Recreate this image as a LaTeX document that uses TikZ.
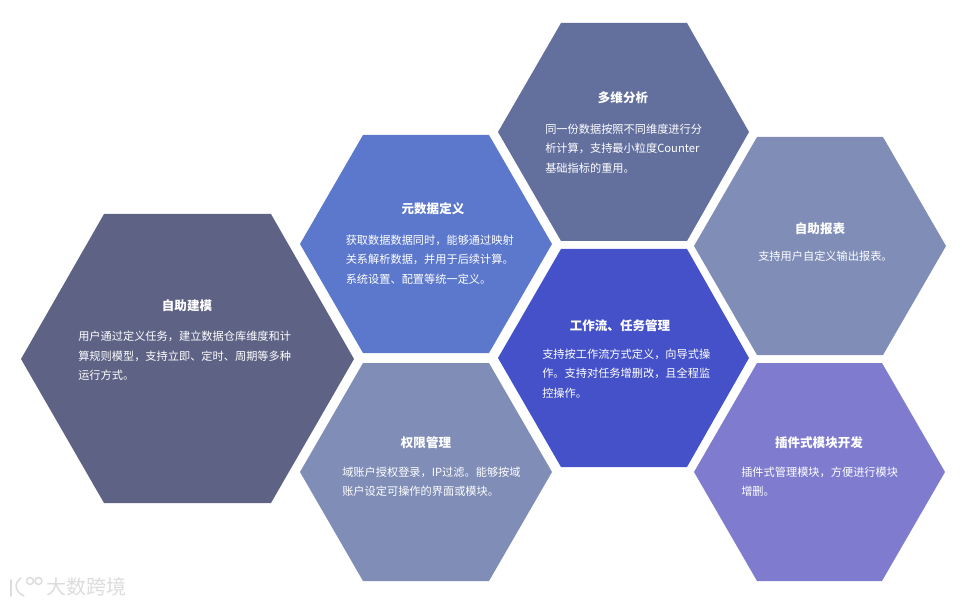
\documentclass[tikz,border=0pt]{standalone}
\usepackage{fontspec}
\setmainfont{Noto Sans CJK SC}
\definecolor{cA}{HTML}{5E6386}
\definecolor{cB}{HTML}{63709E}
\definecolor{cC}{HTML}{5C78CC}
\definecolor{cD}{HTML}{7F8DB7}
\definecolor{cE}{HTML}{4451C8}
\definecolor{cF}{HTML}{7F7CD0}
\definecolor{mark}{HTML}{DCDCDC}
\tikzset{
  x=0.75pt,y=-0.75pt,
  hextitle/.style={text=white,font=\fontsize{9.4pt}{11pt}\selectfont\bfseries,inner sep=0pt,anchor=center},
  hexbody/.style={text=white,font=\fontsize{8.4pt}{14.7pt}\selectfont,inner sep=0pt,anchor=north west,align=left},
  wm/.style={text=mark,font=\fontsize{15pt}{18pt}\selectfont,inner sep=0pt},
  wmline/.style={draw=mark,line width=1.1pt,line cap=round}
}
\newcommand{\hexa}[8]{\fill[#1] (#2,#7) -- (#3,#5) -- (#4,#5) -- (#8,#7) -- (#4,#6) -- (#3,#6) -- cycle;}
\begin{document}
\begin{tikzpicture}
\useasboundingbox (0,0) rectangle (962,605);
% colour, left, topleft, topright, top, bottom, mid, right
\hexa{cA}{21}{104}{271}{214}{503}{359}{354}
\hexa{cB}{498}{561}{687}{23}{241}{132}{749}
\hexa{cC}{300}{363}{489}{135}{353}{244}{552}
\hexa{cD}{300}{363}{489}{363}{581}{472}{552}
\hexa{cE}{498}{561}{687}{249}{467}{358}{749}
\hexa{cD}{694}{757}{883}{137}{355}{246}{946}
\hexa{cF}{694}{757}{882}{363}{581}{472}{945}

\node[hextitle] (t1) at (187,306) {自助建模};
\node[hexbody] (b1) at (78,331) {用户通过定义任务，建立数据仓库维度和计\\算规则模型，支持立即、定时、周期等多种\\运行方式。};

\node[hextitle] (t2) at (623,98) {多维分析};
\node[hexbody] (b2) at (545,123.5) {同一份数据按照不同维度进行分\\析计算，支持最小粒度Counter\\基础指标的重用。};

\node[hextitle] (t3) at (433,209) {元数据定义};
\node[hexbody] (b3) at (345.5,234.5) {获取数据数据同时，能够通过映射\\关系解析数据，并用于后续计算。\\系统设置、配置等统一定义。};

\node[hextitle] (t4) at (426,443) {权限管理};
\node[hexbody] (b4) at (342,466.5) {域账户授权登录，IP过滤。能够按域\\账户设定可操作的界面或模块。};

\node[hextitle] (t5) at (620,326) {工作流、任务管理};
\node[hexbody] (b5) at (542,348.5) {支持按工作流方式定义，向导式操\\作。支持对任务增删改，且全程监\\控操作。};

\node[hextitle] (t6) at (820,229) {自助报表};
\node[hexbody] (b6) at (758,251) {支持用户自定义输出报表。};

\node[hextitle] (t7) at (819,443) {插件式模块开发};
\node[hexbody] (b7) at (741,466.5) {插件式管理模块，方便进行模块\\增删。};

% watermark
\node[wm] (wmt) at (86,587) {大数跨境};
\draw[wmline] (11,580) -- (11,596);
\draw[wmline] (21,578) .. controls (14,583) and (14,591) .. (24,596);
\draw[wmline] (30,581) circle (3.5);
\draw[wmline] (38.5,581) circle (3.5);
\end{tikzpicture}
\end{document}
